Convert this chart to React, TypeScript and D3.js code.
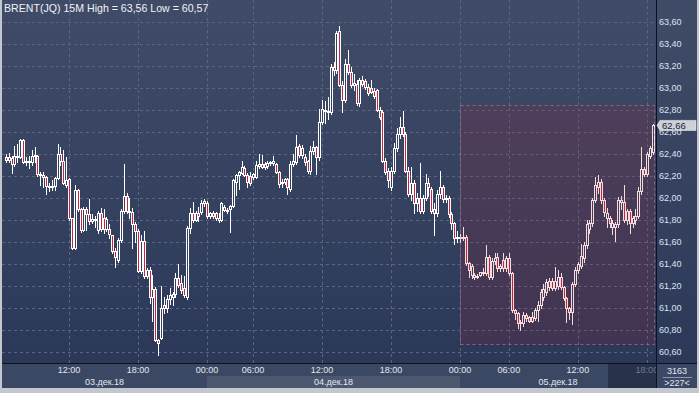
import * as d3 from "d3"

// BRENT(JQ) 15M candles, 03-05 Dec 2018
const opens = [
  62.37, 62.35, 62.36, 62.31, 62.38, 62.37, 62.53, 62.33, 62.34, 62.33,
  62.38, 62.38, 62.22, 62.21, 62.19, 62.11, 62.10, 62.11, 62.18, 62.40,
  62.34, 62.12, 62.17, 61.82, 61.55, 62.07, 61.90, 61.71, 61.90, 61.85,
  61.79, 61.81, 61.71, 61.86, 61.82, 61.72, 61.72, 61.66, 61.52, 61.44,
  61.62, 61.88, 62.02, 61.88, 61.87, 61.76, 61.70, 61.34, 61.61, 61.29,
  61.35, 61.10, 61.17, 60.71, 60.73, 61.03, 61.00, 61.08, 61.10, 61.13,
  61.27, 61.23, 61.18, 61.10, 61.73, 61.86, 61.80, 61.86, 61.87, 61.95,
  61.95, 61.84, 61.86, 61.86, 61.82, 61.80, 61.92, 61.89, 61.90, 61.93,
  62.15, 62.21, 62.23, 62.27, 62.21, 62.20, 62.19, 62.19, 62.29, 62.31,
  62.31, 62.29, 62.32, 62.32, 62.31, 62.24, 62.14, 62.15, 62.17, 62.08,
  62.31, 62.33, 62.47, 62.39, 62.37, 62.34, 62.25, 62.43, 62.46, 62.37,
  62.69, 62.80, 62.79, 62.78, 63.19, 63.16, 63.52, 63.03, 62.89, 63.22,
  63.15, 63.03, 63.04, 62.86, 63.07, 63.06, 63.01, 63.00, 62.97, 62.98,
  62.80, 62.78, 62.34, 62.25, 62.10, 62.25, 62.45, 62.58, 62.65, 62.58,
  62.25, 62.04, 62.14, 61.95, 62.00, 61.88, 62.00, 62.14, 62.08, 61.90,
  61.86, 62.04, 62.10, 61.99, 62.00, 61.85, 61.77, 61.64, 61.65, 61.64,
  61.65, 61.41, 61.30, 61.30, 61.29, 61.30, 61.33, 61.32, 61.46, 61.28,
  61.43, 61.46, 61.36, 61.44, 61.36, 61.45, 61.32, 60.98, 60.95, 60.87,
  60.86, 60.94, 60.92, 60.88, 60.91, 60.98, 61.03, 61.10, 61.15, 61.19,
  61.25, 61.18, 61.20, 61.28, 61.19, 61.09, 61.00, 60.96, 61.22, 61.35,
  61.38, 61.45, 61.57, 61.72, 61.77, 61.98, 62.10, 62.15, 61.98, 61.82,
  61.82, 61.74, 61.74, 61.76, 61.96, 61.96, 61.80, 61.88, 61.77, 61.80,
  61.84, 62.06, 62.26, 62.22, 62.38, 62.42,
]

const highs = [
  62.40, 62.41, 62.38, 62.47, 62.49, 62.54, 62.54, 62.37, 62.38, 62.44,
  62.46, 62.39, 62.24, 62.24, 62.20, 62.14, 62.16, 62.19, 62.49, 62.46,
  62.44, 62.37, 62.18, 61.82, 62.12, 62.08, 61.91, 61.92, 61.92, 61.99,
  61.85, 61.84, 61.88, 61.91, 61.90, 61.83, 61.76, 61.66, 61.55, 61.64,
  61.90, 62.31, 62.05, 62.00, 61.91, 61.78, 61.72, 61.66, 61.70, 61.36,
  61.37, 61.30, 61.19, 60.72, 61.20, 61.10, 61.12, 61.18, 61.15, 61.32,
  61.40, 61.30, 61.29, 61.75, 61.91, 61.96, 61.88, 61.92, 61.98, 61.99,
  61.97, 61.87, 61.88, 61.87, 61.86, 61.96, 61.94, 61.91, 61.94, 62.17,
  62.22, 62.25, 62.34, 62.29, 62.23, 62.24, 62.23, 62.34, 62.40, 62.39,
  62.33, 62.34, 62.34, 62.38, 62.32, 62.25, 62.17, 62.18, 62.18, 62.34,
  62.40, 62.57, 62.49, 62.48, 62.40, 62.35, 62.47, 62.52, 62.47, 62.81,
  62.89, 62.88, 62.92, 63.22, 63.24, 63.52, 63.56, 63.06, 63.26, 63.35,
  63.19, 63.13, 63.07, 63.09, 63.11, 63.08, 63.04, 63.07, 63.00, 62.99,
  62.83, 62.80, 62.36, 62.27, 62.28, 62.50, 62.64, 62.74, 62.79, 62.60,
  62.28, 62.28, 62.16, 62.05, 62.32, 62.03, 62.22, 62.18, 62.10, 61.95,
  62.07, 62.25, 62.12, 62.03, 62.02, 61.87, 61.78, 61.70, 61.67, 61.74,
  61.66, 61.42, 61.40, 61.32, 61.31, 61.33, 61.36, 61.57, 61.48, 61.45,
  61.50, 61.50, 61.40, 61.50, 61.47, 61.50, 61.33, 60.99, 60.96, 60.89,
  60.96, 60.95, 60.93, 60.96, 61.00, 61.06, 61.17, 61.22, 61.26, 61.27,
  61.27, 61.37, 61.35, 61.32, 61.20, 61.10, 61.01, 61.24, 61.37, 61.42,
  61.58, 61.60, 61.80, 61.80, 62.00, 62.19, 62.21, 62.17, 62.00, 61.91,
  61.84, 61.80, 61.78, 62.01, 62.02, 62.12, 61.90, 61.90, 61.84, 61.90,
  62.10, 62.46, 62.28, 62.42, 62.47, 62.67,
]

const lows = [
  62.33, 62.33, 62.23, 62.29, 62.33, 62.36, 62.32, 62.30, 62.27, 62.30,
  62.33, 62.20, 62.12, 62.10, 62.04, 62.06, 62.07, 62.07, 62.17, 62.30,
  62.13, 62.10, 61.80, 61.54, 61.54, 61.88, 61.69, 61.70, 61.71, 61.76,
  61.77, 61.74, 61.68, 61.70, 61.68, 61.70, 61.64, 61.50, 61.37, 61.42,
  61.60, 61.86, 61.86, 61.82, 61.55, 61.60, 61.33, 61.32, 61.27, 61.27,
  61.05, 60.88, 60.70, 60.57, 60.72, 60.95, 60.96, 61.04, 61.03, 61.10,
  61.19, 61.14, 61.10, 61.08, 61.68, 61.78, 61.79, 61.79, 61.85, 61.93,
  61.82, 61.82, 61.82, 61.80, 61.78, 61.79, 61.88, 61.86, 61.69, 61.92,
  62.03, 62.08, 62.22, 62.20, 62.10, 62.12, 62.17, 62.18, 62.27, 62.27,
  62.26, 62.27, 62.30, 62.30, 62.23, 62.10, 62.10, 62.13, 62.04, 62.06,
  62.29, 62.31, 62.37, 62.36, 62.30, 62.23, 62.22, 62.40, 62.22, 62.35,
  62.67, 62.68, 62.72, 62.76, 63.12, 63.14, 63.02, 62.78, 62.87, 63.13,
  63.01, 62.98, 62.85, 62.84, 63.02, 62.99, 62.94, 62.95, 62.91, 62.79,
  62.72, 62.33, 62.22, 62.10, 62.07, 62.23, 62.43, 62.55, 62.56, 62.24,
  62.02, 61.98, 61.86, 61.88, 61.86, 61.86, 61.98, 62.02, 61.86, 61.66,
  61.84, 62.00, 61.96, 61.96, 61.83, 61.72, 61.58, 61.60, 61.60, 61.62,
  61.39, 61.28, 61.27, 61.26, 61.27, 61.29, 61.30, 61.30, 61.26, 61.26,
  61.40, 61.34, 61.34, 61.34, 61.34, 61.30, 60.96, 60.90, 60.82, 60.80,
  60.84, 60.88, 60.87, 60.87, 60.89, 60.88, 61.00, 61.07, 61.12, 61.16,
  61.16, 61.16, 61.17, 61.17, 61.07, 60.87, 60.90, 60.85, 61.20, 61.32,
  61.36, 61.42, 61.55, 61.68, 61.75, 61.96, 62.05, 61.95, 61.84, 61.74,
  61.74, 61.67, 61.61, 61.74, 61.90, 61.78, 61.76, 61.68, 61.74, 61.76,
  61.82, 62.04, 62.20, 62.20, 62.36, 62.40,
]

const closes = [
  62.35, 62.37, 62.31, 62.38, 62.38, 62.53, 62.33, 62.34, 62.33, 62.38,
  62.39, 62.22, 62.21, 62.19, 62.11, 62.10, 62.11, 62.18, 62.40, 62.34,
  62.14, 62.16, 61.82, 61.55, 62.07, 61.90, 61.71, 61.90, 61.85, 61.79,
  61.81, 61.80, 61.86, 61.72, 61.72, 61.81, 61.67, 61.52, 61.46, 61.62,
  61.88, 62.02, 61.88, 61.87, 61.76, 61.70, 61.34, 61.61, 61.29, 61.35,
  61.10, 61.17, 60.71, 60.68, 61.00, 61.00, 61.08, 61.12, 61.13, 61.27,
  61.21, 61.16, 61.12, 61.73, 61.86, 61.80, 61.86, 61.84, 61.95, 61.97,
  61.84, 61.86, 61.84, 61.82, 61.80, 61.95, 61.89, 61.88, 61.93, 62.16,
  62.21, 62.24, 62.28, 62.21, 62.15, 62.14, 62.22, 62.30, 62.31, 62.28,
  62.28, 62.32, 62.33, 62.34, 62.24, 62.13, 62.15, 62.17, 62.10, 62.31,
  62.34, 62.46, 62.39, 62.45, 62.33, 62.25, 62.43, 62.46, 62.37, 62.69,
  62.81, 62.79, 62.78, 63.19, 63.16, 63.50, 63.03, 62.89, 63.22, 63.15,
  63.03, 63.05, 62.86, 63.07, 63.04, 63.01, 62.95, 62.96, 62.93, 62.80,
  62.74, 62.34, 62.24, 62.16, 62.25, 62.45, 62.58, 62.65, 62.58, 62.25,
  62.04, 62.14, 61.95, 62.00, 61.88, 62.00, 62.14, 62.10, 61.88, 61.86,
  62.04, 62.10, 61.99, 62.00, 61.85, 61.77, 61.64, 61.65, 61.64, 61.65,
  61.41, 61.35, 61.38, 61.28, 61.29, 61.33, 61.32, 61.46, 61.28, 61.43,
  61.45, 61.36, 61.38, 61.36, 61.45, 61.32, 60.98, 60.95, 60.86, 60.86,
  60.94, 60.91, 60.88, 60.92, 60.98, 61.03, 61.15, 61.17, 61.24, 61.25,
  61.18, 61.25, 61.28, 61.19, 61.09, 61.00, 60.96, 61.22, 61.35, 61.40,
  61.47, 61.57, 61.76, 61.77, 61.98, 62.12, 62.15, 61.98, 61.87, 61.86,
  61.77, 61.77, 61.76, 61.98, 61.98, 61.80, 61.88, 61.77, 61.82, 61.84,
  62.06, 62.26, 62.22, 62.40, 62.45, 62.66,
]

const priceTicks = [60.6, 60.8, 61.0, 61.2, 61.4, 61.6, 61.8, 62.0, 62.2, 62.4, 62.6, 62.8, 63.0, 63.2, 63.4, 63.6]

// candle index of each time tick
const timeTickIdx = [22, 46, 70, 86, 110, 134, 158, 175, 199, 223]
const timeTickLabels = ["12:00", "18:00", "00:00", "06:00", "12:00", "18:00", "00:00", "06:00", "12:00", "18:00"]

// day sessions: first candle index of each day
const dayStartIdx = [-1, 70, 158]
const dayLabels = ["03.дек.18", "04.дек.18", "05.дек.18"]

// highlighted box (candle index range and price range)
const boxIdx = [158, 225]
const boxPrice = [60.67, 62.845]

const barsTotal = "3163"
const barsVisible = ">227<"

const FONT = "'Liberation Sans', Arial, sans-serif"
const fmt = (v: number) => d3.format(".2f")(v).replace(".", ",")

export default function App() {
  const W = 699
  const H = 393
  const plotLeft = 2
  const plotRight = 656
  const axisTop = 363
  const bottom = 388

  const x = d3.scaleLinear().domain([0, 225]).range([5.75, 652.625])
  const y = d3.scaleLinear().domain([60.6, 63.6]).range([352, 22])

  const hi = d3.max(highs) as number
  const lo = d3.min(lows) as number
  const last = closes[closes.length - 1]

  const dayEdges = dayStartIdx.map((d, k) => (k === 0 ? plotLeft : x(d)))
  const dayBands = dayLabels.map((lab, k) => {
    const x0 = dayEdges[k]
    const x1 = k + 1 < dayEdges.length ? dayEdges[k + 1] : plotRight
    return { lab, x0, x1, k }
  })

  const candles = closes.map((c, i) => {
    const o = opens[i]
    const cx = Math.round(x(i))
    const top = Math.round(y(Math.max(o, c)))
    const bot = Math.max(Math.round(y(Math.min(o, c))), top + 1)
    return {
      i,
      cx,
      top,
      bot,
      yh: Math.round(y(highs[i])),
      yl: Math.round(y(lows[i])),
      down: c < o,
    }
  })

  const tagY = y(last)

  return (
    <svg
      width={W}
      height={H}
      style={{ position: "absolute", left: 0, top: 0, display: "block" }}
    >
      <defs>
        <linearGradient id="bg" x1="0" y1="0" x2="0" y2="1">
          <stop offset="0%" stopColor="#404c67" />
          <stop offset="100%" stopColor="#2b3858" />
        </linearGradient>
        <clipPath id="plotClip">
          <rect x={plotLeft} y={0} width={plotRight - plotLeft} height={axisTop} />
        </clipPath>
        <clipPath id="axisClip">
          <rect x={plotLeft} y={axisTop} width={plotRight - plotLeft} height={bottom - axisTop} />
        </clipPath>
      </defs>

      {/* frame */}
      <rect x={0} y={0} width={W} height={H} fill="#c3c7ce" />
      <rect x={plotLeft} y={0} width={697 - plotLeft} height={axisTop} fill="url(#bg)" />

      {/* bottom axis panel */}
      <rect x={plotLeft} y={axisTop} width={697 - plotLeft} height={bottom - axisTop} fill="#3b4863" />
      {dayBands.map((d) => (
        <rect
          key={"band" + d.k}
          x={d.x0}
          y={376}
          width={d.x1 - d.x0}
          height={bottom - 376}
          fill={d.k % 2 === 1 ? "#4c5770" : "#3b4863"}
        />
      ))}
      <rect x={608} y={axisTop + 1} width={plotRight - 608} height={bottom - axisTop - 1} fill="#28324b" />

      {/* grid */}
      <g clipPath="url(#plotClip)" stroke="#5a6681" strokeWidth={1} strokeDasharray="3,3">
        {priceTicks.map((p) => (
          <line key={"h" + p} x1={plotLeft} x2={plotRight} y1={Math.round(y(p)) + 0.5} y2={Math.round(y(p)) + 0.5} />
        ))}
        {timeTickIdx.map((t, k) => (
          <line key={"v" + k} x1={Math.round(x(t)) + 0.5} x2={Math.round(x(t)) + 0.5} y1={0} y2={axisTop} />
        ))}
      </g>

      {/* candles */}
      <g clipPath="url(#plotClip)">
        {candles.map((d) => (
          <g key={d.i}>
            <line x1={d.cx + 0.5} x2={d.cx + 0.5} y1={d.yh} y2={d.top} stroke="#ffffff" />
            <line x1={d.cx + 0.5} x2={d.cx + 0.5} y1={d.bot + 1} y2={d.yl + 1} stroke="#ffffff" />
            <rect
              x={d.cx - 0.5}
              y={d.top + 0.5}
              width={2}
              height={d.bot - d.top}
              fill={d.down ? "#c8243c" : "#34405d"}
              stroke="#ffffff"
              strokeWidth={1}
            />
          </g>
        ))}
      </g>

      {/* highlighted area */}
      <rect
        x={Math.round(x(boxIdx[0])) + 0.5}
        y={Math.round(y(boxPrice[1])) + 0.5}
        width={Math.round(x(boxIdx[1])) - Math.round(x(boxIdx[0])) + 1}
        height={Math.round(y(boxPrice[0])) - Math.round(y(boxPrice[1]))}
        fill="rgba(180,30,52,0.16)"
        stroke="rgba(215,140,165,0.5)"
        strokeDasharray="3,3"
      />

      {/* title */}
      <text x={4} y={12} fill="#f0f2f6" fontSize={10.6} fontFamily={FONT}>
        {`BRENT(JQ) 15M High = ${fmt(hi)} Low = ${fmt(lo)}`}
      </text>

      {/* separators */}
      <line x1={plotLeft} x2={697} y1={axisTop + 0.5} y2={axisTop + 0.5} stroke="#0d1220" />
      <line x1={plotRight + 0.5} x2={plotRight + 0.5} y1={0} y2={bottom} stroke="#0d1220" />

      {/* price axis */}
      {priceTicks.map((p) => (
        <text key={"pl" + p} x={659} y={y(p)} dy="0.35em" fill="#dce3f0" fontSize={9} fontFamily={FONT}>
          {fmt(p)}
        </text>
      ))}

      {/* last price tag */}
      <path
        d={`M${plotRight + 1},${tagY} L${660},${tagY - 5} L${696},${tagY - 5} L${696},${tagY + 5} L${660},${tagY + 5} Z`}
        fill="#cdd1d8"
        stroke="#eef0f4"
        strokeWidth={0.6}
      />
      <text x={662} y={tagY} dy="0.35em" fill="#1b2130" fontSize={9.5} fontFamily={FONT}>
        {fmt(last)}
      </text>

      {/* time axis */}
      <g clipPath="url(#axisClip)" fontFamily={FONT} fontSize={9} textAnchor="middle">
        {timeTickIdx.map((t, k) => (
          <text
            key={"tl" + k}
            x={x(t)}
            y={373}
            fill={x(t) > 608 ? "#6c7a96" : "#e2e7f0"}
          >
            {timeTickLabels[k]}
          </text>
        ))}
        {dayBands.map((d) => (
          <text key={"dl" + d.k} x={(d.x0 + d.x1) / 2} y={385} fill="#e2e7f0">
            {d.lab}
          </text>
        ))}
      </g>

      {/* bars counter */}
      <g fontFamily={FONT} fontSize={9} textAnchor="middle" fill="#e2e7f0">
        <text x={677} y={374}>{barsTotal}</text>
        <line x1={663} x2={692} y1={377.5} y2={377.5} stroke="#8f9ab0" />
        <text x={677} y={386}>{barsVisible}</text>
      </g>
    </svg>
  )
}
